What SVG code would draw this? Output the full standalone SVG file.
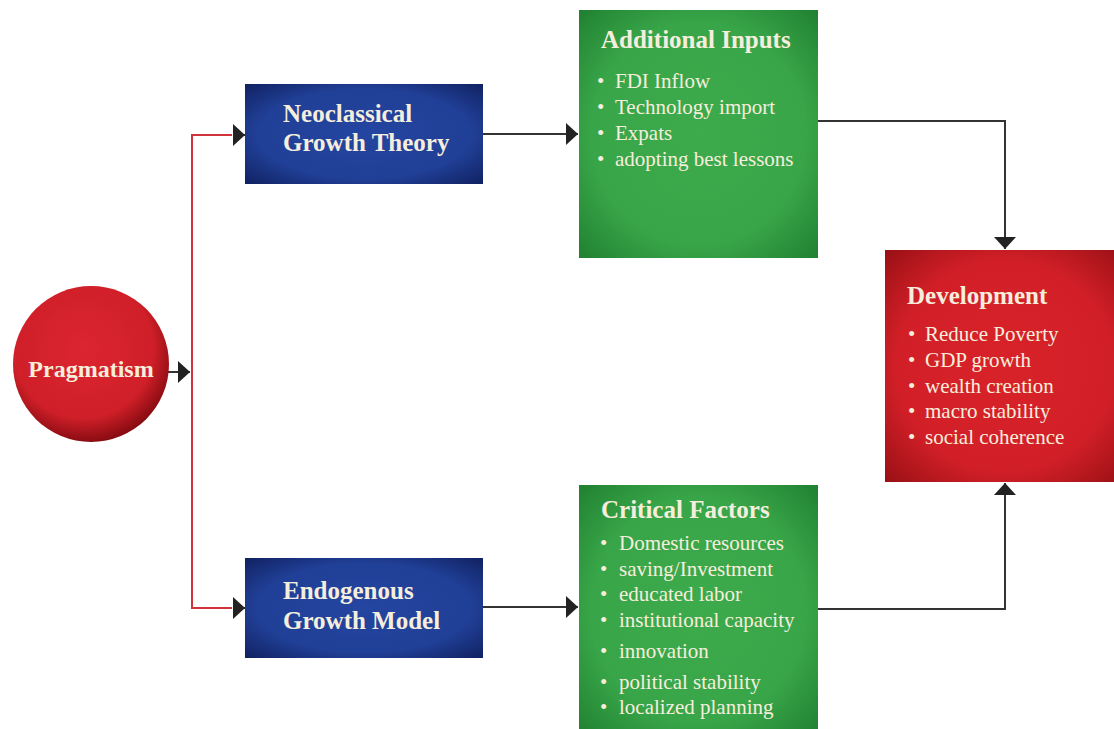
<svg xmlns="http://www.w3.org/2000/svg" width="1114" height="729" viewBox="0 0 1114 729">
<defs>
<radialGradient id="gBlue" cx="50%" cy="50%" r="75%">
<stop offset="0" stop-color="#2445a0"/><stop offset="0.6" stop-color="#203f96"/><stop offset="1" stop-color="#0e1c58"/>
</radialGradient>
<radialGradient id="gGreen" cx="50%" cy="50%" r="75%">
<stop offset="0" stop-color="#3dab4c"/><stop offset="0.6" stop-color="#38a548"/><stop offset="1" stop-color="#1c7a2c"/>
</radialGradient>
<radialGradient id="gRed" cx="50%" cy="50%" r="75%">
<stop offset="0" stop-color="#d8222a"/><stop offset="0.6" stop-color="#d21f27"/><stop offset="1" stop-color="#8e0d12"/>
</radialGradient>
<radialGradient id="gCircle" cx="45%" cy="40%" r="60%">
<stop offset="0" stop-color="#dc2530"/><stop offset="0.75" stop-color="#cf1f28"/><stop offset="1" stop-color="#8a0c12"/>
</radialGradient>
<marker id="ah" markerWidth="12" markerHeight="22" refX="12" refY="11" orient="auto" markerUnits="userSpaceOnUse">
<path d="M0,0 L12,11 L0,22 Z" fill="#222"/>
</marker>
</defs>
<style>
.t{font-family:"Liberation Serif","Times New Roman",serif;fill:#f6eedd}
.h{font-weight:bold;font-size:25px}
.b{font-size:21px}
.ln{fill:none;stroke:#333;stroke-width:2}
.rl{fill:none;stroke:#d0343a;stroke-width:2}
</style>
<rect width="1114" height="729" fill="#fff"/>
<g id="connectors">
<path class="rl" d="M232,135 H192 V608 H232"/>
<path class="ln" d="M233,135 H245" marker-end="url(#ah)"/>
<path class="ln" d="M233,608 H245" marker-end="url(#ah)"/>
<path class="ln" d="M168,372 H190" marker-end="url(#ah)"/>
<path class="ln" d="M483,134 H578" marker-end="url(#ah)"/>
<path class="ln" d="M483,607 H578" marker-end="url(#ah)"/>
<path class="ln" d="M818,121 H1005 V249" marker-end="url(#ah)"/>
<path class="ln" d="M818,609 H1005 V483" marker-end="url(#ah)"/>
</g>
<g id="pragmatism">
<circle cx="91" cy="364" r="78" fill="url(#gCircle)"/>
<text class="t h" x="91" y="377" text-anchor="middle" style="font-size:24px">Pragmatism</text>
</g>
<g id="neoclassical">
<rect x="245" y="84" width="238" height="100" fill="url(#gBlue)"/>
<text class="t h" x="283" y="122">Neoclassical</text>
<text class="t h" x="283" y="151">Growth Theory</text>
</g>
<g id="endogenous">
<rect x="245" y="558" width="238" height="100" fill="url(#gBlue)"/>
<text class="t h" x="283" y="599">Endogenous</text>
<text class="t h" x="283" y="629">Growth Model</text>
</g>
<g id="additional-inputs">
<rect x="579" y="10" width="239" height="248" fill="url(#gGreen)"/>
<text class="t h" x="601" y="48">Additional Inputs</text>
<g class="t b">
<text x="597" y="88">•</text><text x="615" y="88">FDI Inflow</text>
<text x="597" y="114">•</text><text x="615" y="114">Technology import</text>
<text x="597" y="140">•</text><text x="615" y="140">Expats</text>
<text x="597" y="166">•</text><text x="615" y="166">adopting best lessons</text>
</g>
</g>
<g id="critical-factors">
<rect x="579" y="485" width="239" height="250" fill="url(#gGreen)"/>
<text class="t h" x="601" y="518">Critical Factors</text>
<g class="t b">
<text x="600" y="550">•</text><text x="619" y="550">Domestic resources</text>
<text x="600" y="576">•</text><text x="619" y="576">saving/Investment</text>
<text x="600" y="601">•</text><text x="619" y="601">educated labor</text>
<text x="600" y="627">•</text><text x="619" y="627">institutional capacity</text>
<text x="600" y="658">•</text><text x="619" y="658">innovation</text>
<text x="600" y="689">•</text><text x="619" y="689">political stability</text>
<text x="600" y="714">•</text><text x="619" y="714">localized planning</text>
</g>
</g>
<g id="development">
<rect x="885" y="250" width="240" height="232" fill="url(#gRed)"/>
<text class="t h" x="907" y="304">Development</text>
<g class="t b">
<text x="908" y="341">•</text><text x="925" y="341">Reduce Poverty</text>
<text x="908" y="367">•</text><text x="925" y="367">GDP growth</text>
<text x="908" y="393">•</text><text x="925" y="393">wealth creation</text>
<text x="908" y="418">•</text><text x="925" y="418">macro stability</text>
<text x="908" y="444">•</text><text x="925" y="444">social coherence</text>
</g>
</g>
</svg>
